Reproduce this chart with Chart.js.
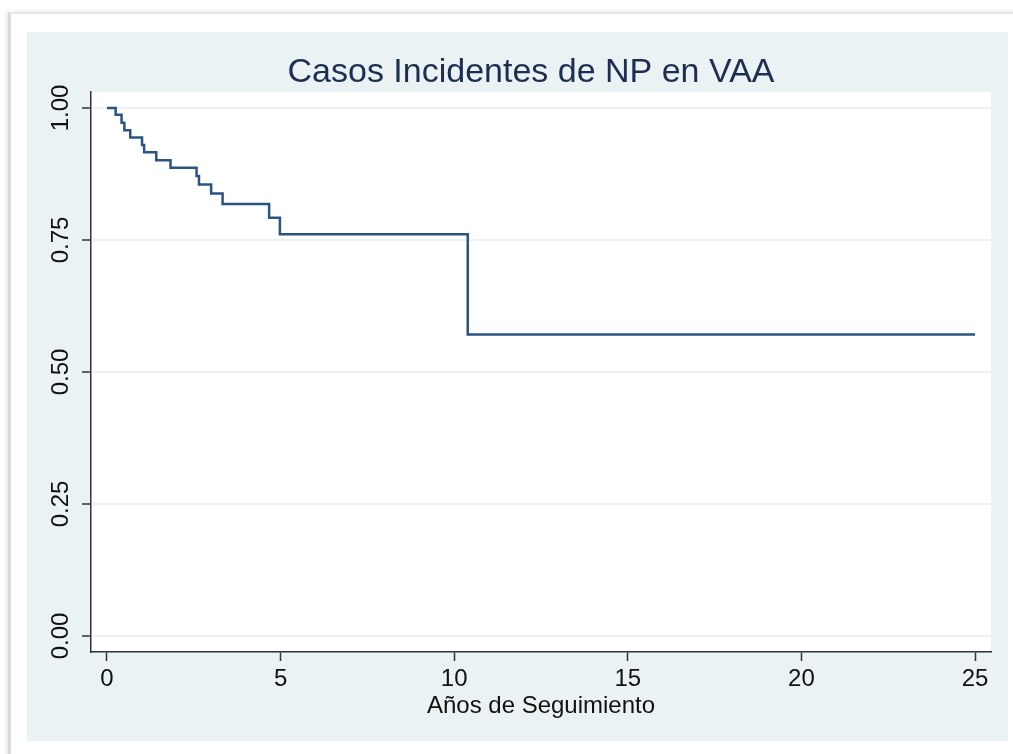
<!DOCTYPE html>
<html>
<head>
<meta charset="utf-8">
<script src="https://cdn.jsdelivr.net/npm/chart.js@4/dist/chart.umd.min.js"></script>
<style>
  body { margin: 0; background: #fff; width: 1013px; height: 754px; overflow: hidden; position: relative; }
  #marco { position: absolute; left: 8px; top: 12px; width: 1020px; height: 760px;
           border-left: 3px solid #d9d9d9; border-top: 2px solid #e6e6e6;
           box-shadow: -2px -1px 3px rgba(0,0,0,0.08); }
  #fondo { position: absolute; left: 27px; top: 32px; width: 981px; height: 709px; background: #eaf2f3; }
</style>
</head>
<body>
<div id="marco"></div>
<div id="fondo"><canvas id="kmChart" width="981" height="709"></canvas></div>
<script>
// Kaplan-Meier: tiempos (años) y supervivencia tras cada evento
const tiempos = [0, 0.25, 0.42, 0.50, 0.67, 1.01, 1.07, 1.42, 1.83, 2.58, 2.65, 3.00, 3.33, 4.67, 4.98, 10.39, 25];
const supervivencia = [1.0, 0.987, 0.972, 0.958, 0.944, 0.930, 0.916, 0.901, 0.887, 0.871, 0.855, 0.838, 0.818, 0.792, 0.761, 0.571, 0.571];
const ticksX = [0, 5, 10, 15, 20, 25];
const ticksY = [0, 0.25, 0.5, 0.75, 1];
const titulo = "Casos Incidentes de NP en VAA";
const tituloX = "Años de Seguimiento";

const fuente = "'Liberation Sans', Arial, Helvetica, sans-serif";

const fondoPlot = {
  id: "fondoPlot",
  beforeDraw(chart) {
    const { ctx, chartArea } = chart;
    ctx.save();
    ctx.fillStyle = "#ffffff";
    ctx.fillRect(chartArea.left, chartArea.top, chartArea.right - chartArea.left, chartArea.bottom - chartArea.top);
    ctx.restore();
  }
};

// titulo centrado un poco a la izquierda del centro del area de datos, como en Stata
const tituloPlot = {
  id: "tituloPlot",
  afterDraw(chart) {
    const { ctx, chartArea } = chart;
    ctx.save();
    ctx.fillStyle = "#1e2e50";
    ctx.font = "34px " + fuente;
    ctx.textAlign = "center";
    ctx.textBaseline = "alphabetic";
    ctx.fillText(titulo, (chartArea.left + chartArea.right) / 2 - 10, chartArea.top - 10);
    ctx.restore();
  }
};

const ctx = document.getElementById("kmChart").getContext("2d");
const kmChart = new Chart(ctx, {
  type: "line",
  data: {
    datasets: [{
      data: tiempos.map((t, i) => ({ x: t, y: supervivencia[i] })),
      borderColor: "#2a5582",
      borderWidth: 2.5,
      pointRadius: 0,
      stepped: true,
      fill: false
    }]
  },
  options: {
    responsive: false,
    animation: false,
    layout: { padding: { left: 0, right: 17, top: 60, bottom: 0 } },
    plugins: {
      legend: { display: false },
      tooltip: { enabled: false },
      title: { display: false }
    },
    scales: {
      x: {
        type: "linear",
        min: -0.46,
        max: 25.46,
        afterBuildTicks: scale => { scale.ticks = ticksX.map(v => ({ value: v })); },
        afterFit: scale => { scale.height = 89; },
        border: { display: true, color: "#333333", width: 1.5 },
        grid: { drawOnChartArea: false, drawTicks: true, tickLength: 9, tickColor: "#333333", tickWidth: 1.5 },
        ticks: { color: "#111111", font: { family: fuente, size: 24 }, padding: 4, maxRotation: 0 },
        title: { display: true, text: tituloX, color: "#111111", font: { family: fuente, size: 24 }, padding: { top: 2, bottom: 20 } }
      },
      y: {
        type: "linear",
        min: -0.0303,
        max: 1.0303,
        afterBuildTicks: scale => { scale.ticks = ticksY.map(v => ({ value: v })); },
        afterFit: scale => { scale.width = 64; },
        border: { display: true, color: "#333333", width: 1.5 },
        grid: { color: "#eaf2f3", lineWidth: 2, drawTicks: true, tickLength: 9, tickColor: "#333333", tickWidth: 1.5 },
        ticks: {
          color: "#111111",
          font: { family: fuente, size: 24 },
          padding: -3,
          minRotation: 90,
          maxRotation: 90,
          crossAlign: "center",
          callback: v => v.toFixed(2)
        }
      }
    }
  },
  plugins: [fondoPlot, tituloPlot]
});
</script>
</body>
</html>
